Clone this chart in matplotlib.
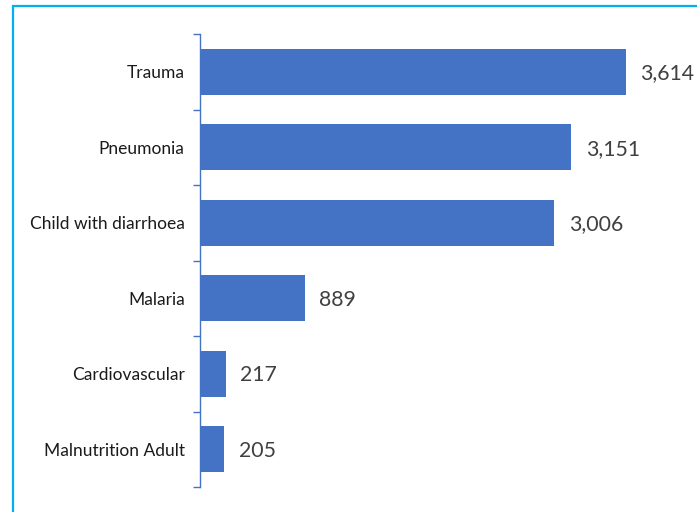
import matplotlib.pyplot as plt
from matplotlib.patches import Rectangle
import numpy as np

plt.rcParams['font.family'] = ['Lato', 'DejaVu Sans']

categories = ['Trauma', 'Pneumonia', 'Child with diarrhoea', 'Malaria',
              'Cardiovascular', 'Malnutrition Adult']
counts = [3614, 3151, 3006, 889, 217, 205]

bar_color = '#4472C4'

fig = plt.figure(figsize=(6.97, 5.12), dpi=100)
ax = fig.add_axes([200 / 697, 25 / 512, 495 / 697, 453 / 512])

# top category first
y = np.arange(len(categories))[::-1]
ax.barh(y, counts, height=0.61, color=bar_color)

for yi, v in zip(y, counts):
    ax.annotate(f'{v:,}', xy=(v, yi), xytext=(10.5, -1), textcoords='offset points',
                ha='left', va='center', fontsize=15.3, color='#404040')

ax.set_xlim(0, 4200)
ax.set_ylim(-0.5, len(categories) - 0.5)

ax.set_yticks(y)
ax.set_yticklabels(categories, fontsize=12.5, color='#1a1a1a')
ax.tick_params(axis='y', which='major', length=0, pad=11)
ax.set_yticks(np.arange(-0.5, len(categories)), minor=True)
ax.tick_params(axis='y', which='minor', length=5, width=1, color=bar_color)

ax.set_xticks([])
for side in ['top', 'right', 'bottom']:
    ax.spines[side].set_visible(False)
ax.spines['left'].set_color(bar_color)
ax.spines['left'].set_linewidth(1)

# outer frame around the chart area
fig.patches.append(Rectangle((13 / 697, -0.05), 1.0, 1.05 - 6 / 512,
                             transform=fig.transFigure, fill=False,
                             edgecolor='#00B0F0', linewidth=1.6))

fig.savefig('out.png', dpi=100)
